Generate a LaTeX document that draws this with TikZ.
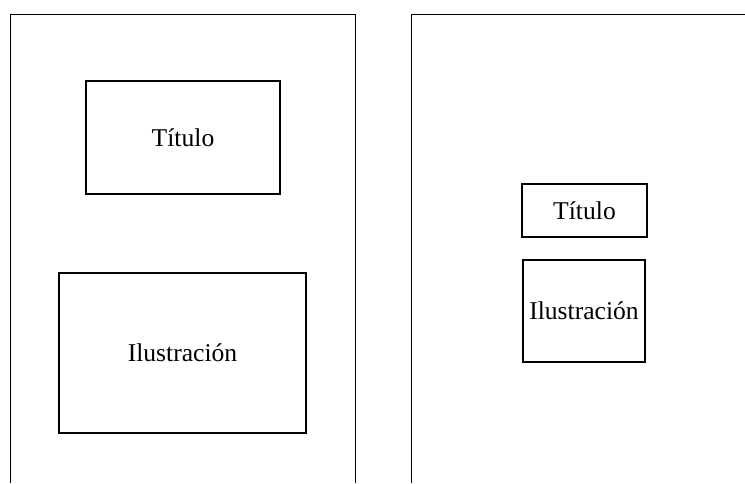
\documentclass[tikz,border=0pt]{standalone}
\usepackage{fontspec}
\setmainfont{Liberation Serif}
\usepackage{tikz}
\usetikzlibrary{positioning}
\tikzset{
  every picture/.style={draw=black, text=black},
  page/.style={line width=0.5pt},
  field/.style={draw, line width=0.6pt, inner sep=0pt, font=\fontsize{12.8}{15}\selectfont},
}

\begin{document}
\begin{tikzpicture}[x=0.5pt, y=-0.5pt]
\useasboundingbox (0,0) rectangle (745,483);
% Left page
\draw[page] (10,483) -- (10,14) -- (355,14) -- (355,483);
\node[field, minimum width=97pt, minimum height=56.5pt] (tituloA) at (183,137.5) {Título};
\node[field, minimum width=123.5pt, minimum height=80pt] (ilusA) at (182.5,353) {Ilustración};
% Right page
\draw[page] (411,483) -- (411,14) -- (745,14);
\node[field, minimum width=62.5pt, minimum height=26.5pt] (tituloB) at (584.5,210.5) {Título};
\node[field, minimum width=61pt, minimum height=51pt] (ilusB) at (584,311) {Ilustración};
\end{tikzpicture}
\end{document}
